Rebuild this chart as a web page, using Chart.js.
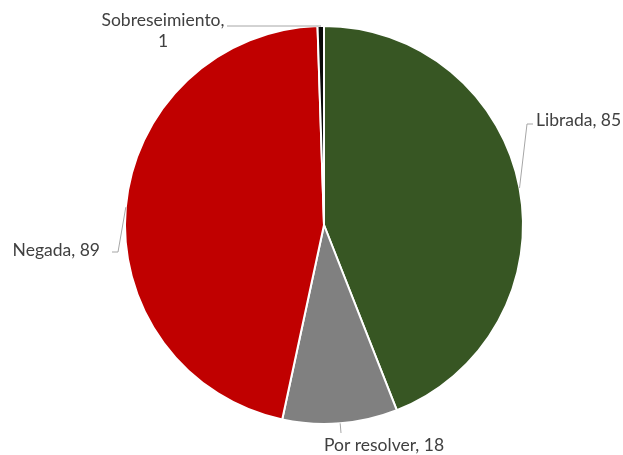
<!DOCTYPE html>
<html>
<head>
<meta charset="utf-8">
<script src="https://cdn.jsdelivr.net/npm/chart.js@4.4.0/dist/chart.umd.min.js"></script>
<style>
  html, body { margin: 0; padding: 0; background: #fff; }
  #wrap { width: 623px; height: 455px; }
</style>
</head>
<body>
<div id="wrap"><canvas id="pieChart"></canvas></div>
<script>
const categories = ['Librada', 'Por resolver', 'Negada', 'Sobreseimiento'];
const counts = [85, 18, 89, 1];
const sliceColors = ['#375623', '#808080', '#c00000', '#0a0a0a'];

// where each label sits, relative to the pie centre (px)
const labelPlacement = [
  { elbow: [203, -101], end: [209, -101], text: [212, -105], align: 'left', lines: ['Librada, 85'] },
  { elbow: [17, 208], end: [17, 208], text: [60, 220], align: 'center', lines: ['Por resolver, 18'] },
  { elbow: [-206, 27], end: [-212, 27], text: [-224, 25], align: 'right', lines: ['Negada, 89'] },
  { elbow: [-3, -199], end: [-97, -199], text: [-161, -205], align: 'center', lines: ['Sobreseimiento,', '1'] }
];

const leaderLabels = {
  id: 'leaderLabels',
  afterDatasetsDraw(chart) {
    const ctx = chart.ctx;
    const arcs = chart.getDatasetMeta(0).data;
    ctx.save();
    ctx.font = '17.5px Lato, "Open Sans", sans-serif';
    ctx.fillStyle = '#404040';
    ctx.textBaseline = 'middle';
    arcs.forEach((arc, i) => {
      const p = labelPlacement[i];
      const cx = arc.x, cy = arc.y;
      const mid = (arc.startAngle + arc.endAngle) / 2;
      const sx = cx + Math.cos(mid) * arc.outerRadius;
      const sy = cy + Math.sin(mid) * arc.outerRadius;
      ctx.strokeStyle = '#a6a6a6';
      ctx.lineWidth = 1;
      ctx.beginPath();
      ctx.moveTo(sx, sy);
      ctx.lineTo(cx + p.elbow[0], cy + p.elbow[1]);
      ctx.lineTo(cx + p.end[0], cy + p.end[1]);
      ctx.stroke();
      ctx.textAlign = p.align;
      p.lines.forEach((t, k) => {
        ctx.fillText(t, cx + p.text[0], cy + p.text[1] + k * 21);
      });
    });
    ctx.restore();
  }
};

const chart = new Chart(document.getElementById('pieChart'), {
  type: 'pie',
  data: {
    labels: categories,
    datasets: [{
      data: counts,
      backgroundColor: sliceColors,
      borderColor: '#ffffff',
      borderWidth: 2
    }]
  },
  options: {
    responsive: true,
    maintainAspectRatio: false,
    animation: false,
    layout: { padding: { top: 25, bottom: 30, left: 25, right: 0 } },
    plugins: {
      legend: { display: false },
      tooltip: { enabled: false }
    }
  },
  plugins: [leaderLabels]
});
</script>
</body>
</html>
